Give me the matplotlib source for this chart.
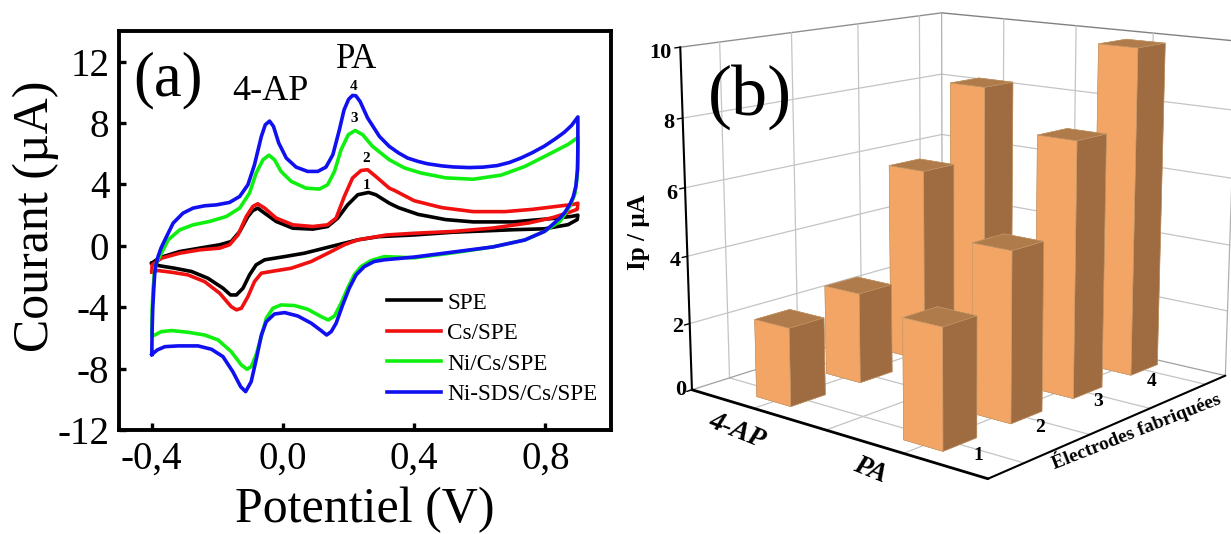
import numpy as np
import matplotlib
matplotlib.use('Agg')
import matplotlib.pyplot as plt

plt.rcParams['font.family'] = ['Liberation Serif', 'DejaVu Serif']

# (a) cyclic voltammograms: (potential V, current uA)
black_cv = [(-.40,-1.13),(-.385,-.9),(-.365,-.70),(-.315,-.37),(-.254,-.15),(-.193,.07),(-.158,.28),(-.132,.93),(-.107,1.91),(-.092,2.3),(-.077,2.46),(-.056,2.13),(-.021,1.59),(.03,1.15),(.091,1.09),(.136,1.26),(.167,1.81),(.197,2.67),(.228,3.33),(.261,3.48),(.283,3.33),(.324,2.78),(.352,2.49),(.412,2.05),(.496,1.71),(.58,1.56),(.701,1.56),(.821,1.78),(.88,1.92),(.899,2.0),
            (.897,1.71),(.869,1.38),(.797,1.11),(.701,1.05),(.52,.89),(.40,.71),(.292,.6),(.228,.39),(.147,-.04),(.065,-.48),(.005,-.70),(-.056,-.91),(-.082,-1.24),(-.102,-1.89),(-.122,-2.76),(-.142,-3.2),(-.16,-3.2),(-.183,-2.76),(-.229,-2.11),(-.279,-1.67),(-.33,-1.46),(-.376,-1.30),(-.40,-1.13)]
red_cv = [(-.40,-1.7),(-.399,-1.24),(-.37,-.80),(-.315,-.48),(-.254,-.26),(-.193,-.15),(-.163,.07),(-.137,.72),(-.112,1.91),(-.092,2.57),(-.077,2.74),(-.056,2.46),(-.021,1.81),(.03,1.37),(.091,1.26),(.136,1.37),(.162,1.81),(.187,3.22),(.212,4.42),(.238,4.91),(.258,4.96),(.283,4.52),(.324,3.76),(.34,3.61),(.40,2.94),(.484,2.49),(.58,2.23),(.677,2.23),(.761,2.38),(.845,2.6),(.885,2.7),(.899,2.78),
          (.897,2.38),(.869,2.16),(.821,1.83),(.749,1.49),(.64,1.16),(.52,.94),(.40,.82),(.316,.71),(.228,.39),(.187,.07),(.147,-.37),(.086,-1.02),(.025,-1.46),(-.036,-1.67),(-.066,-1.78),(-.087,-2.33),(-.107,-3.31),(-.127,-4.07),(-.142,-4.17),(-.158,-3.96),(-.193,-3.09),(-.239,-2.33),(-.29,-1.89),(-.34,-1.72),(-.381,-1.61),(-.40,-1.7)]
green_cv = [(-.40,-5.81),(-.399,-4.2),(-.396,-2.8),(-.391,-1.5),(-.384,-1.0),(-.376,-.70),(-.35,.39),(-.315,1.04),(-.274,1.37),(-.224,1.59),(-.173,1.91),(-.132,2.46),(-.102,3.44),(-.082,4.74),(-.061,5.61),(-.043,5.91),(-.026,5.61),(-.006,4.85),(.025,4.2),(.07,3.76),(.111,3.70),(.136,3.98),(.157,4.85),(.177,6.26),(.199,7.24),(.22,7.52),(.243,7.24),(.273,6.48),(.324,5.61),(.37,5.08),(.42,4.75),(.496,4.43),(.58,4.34),(.665,4.61),(.737,5.17),(.809,5.95),(.869,6.61),(.899,7.06),
            (.899,5.8),(.897,4.5),(.89,3.4),(.875,2.6),(.845,1.6),(.797,.94),(.737,.38),(.64,-.07),(.52,-.45),(.40,-.78),(.309,-.70),(.268,-.96),(.238,-1.35),(.217,-1.89),(.197,-2.76),(.177,-3.74),(.157,-4.57),(.138,-4.83),(.116,-4.61),(.075,-4.13),(.035,-3.89),(-.006,-3.85),(-.031,-4.07),(-.051,-4.72),(-.066,-5.91),(-.082,-7.11),(-.097,-7.87),(-.11,-8.04),(-.127,-7.76),(-.158,-6.89),(-.198,-6.13),(-.239,-5.81),(-.29,-5.63),(-.34,-5.52),(-.371,-5.59),(-.391,-5.81)]
blue_cv = [(-.40,-7.08),(-.399,-5.5),(-.397,-4),(-.394,-2.8),(-.391,-1.76),(-.387,-1.2),(-.381,-.7),(-.372,-.15),(-.36,.39),(-.335,1.48),(-.305,2.13),(-.274,2.46),(-.239,2.61),(-.203,2.67),(-.163,2.83),(-.132,3.22),(-.107,3.98),(-.087,5.28),(-.066,7.13),(-.054,7.89),(-.041,8.13),(-.029,7.78),(-.013,6.70),(.010,5.72),(.040,5.13),(.075,4.85),(.106,4.85),(.131,5.13),(.152,5.94),(.172,7.57),(.186,8.85),(.2,9.55),(.212,9.8),(.222,9.78),(.235,9.41),(.258,8.33),(.294,7.13),(.324,6.48),(.352,6.06),(.38,5.72),(.412,5.5),(.44,5.35),(.484,5.21),(.52,5.14),(.568,5.1),(.61,5.13),(.653,5.23),(.69,5.43),(.725,5.72),(.76,6.07),(.797,6.5),(.83,6.97),(.857,7.39),(.88,7.85),(.899,8.4),
           (.899,6.5),(.898,5),(.893,3.9),(.885,3.2),(.875,2.72),(.86,2.2),(.845,1.83),(.82,1.35),(.797,.94),(.737,.38),(.64,-.07),(.52,-.4),(.40,-.73),(.309,-.91),(.278,-1.02),(.248,-1.35),(.223,-1.89),(.202,-2.76),(.182,-3.85),(.162,-5.04),(.147,-5.59),(.133,-5.81),(.116,-5.52),(.086,-5.04),(.045,-4.57),(.005,-4.35),(-.026,-4.44),(-.051,-4.94),(-.066,-5.81),(-.082,-7.44),(-.097,-8.85),(-.114,-9.5),(-.129,-9.18),(-.153,-8.2),(-.183,-7.22),(-.218,-6.74),(-.259,-6.52),(-.32,-6.52),(-.36,-6.57),(-.383,-6.78),(-.40,-7.08)]
series_names = ['SPE', 'Cs/SPE', 'Ni/Cs/SPE', 'Ni-SDS/Cs/SPE']
series_colors = ['#000000', '#F01010', '#10F010', '#1010F0']
x_ticks = [-0.4, 0.0, 0.4, 0.8]
x_labels = ['-0,4', '0,0', '0,4', '0,8']
y_ticks = [-12, -8, -4, 0, 4, 8, 12]
y_labels = ['-12', '-8', '-4', '0', '4', '8', '12']

# (b) peak currents
analytes = ['4-AP', 'PA']
electrodes = [1, 2, 3, 4]
ip_4ap = [2.3, 2.7, 5.9, 8.1]
ip_pa = [3.4, 4.9, 7.5, 9.8]
z_ticks = [0, 2, 4, 6, 8, 10]

W, H = 1231, 534
fig = plt.figure(figsize=(W/100, H/100), dpi=100, facecolor='white')

# ---------- panel (b), 3D ----------
a3 = fig.add_axes([0.5, 0, 0.4, 0.9], projection='3d', computed_zorder=False)
a3.patch.set_visible(False)
a3.set_axis_off()
xl = (-0.456, 1.505); yl = (0.484, 4.38); zl = (0, 10)
a3.set_xlim(*xl); a3.set_ylim(*yl); a3.set_zlim(*zl)
a3.view_init(12.766, -49.844)
a3.set_proj_type('persp', focal_length=0.539)
a3.set_box_aspect((0.998, 1, 0.897))
s, tx, ty = 3396.8, 961.9, 216.9
x0, x1 = a3.viewLim.intervalx; y0, y1 = a3.viewLim.intervaly
side = s*(x1-x0)
a3.set_position([(tx+s*x0)/W, 1-(ty-s*y0)/H, side/W, side/H])

grid_c = '#C4C4C4'
def seg(a, b, c=grid_c, lw=0.9, z=1):
    a3.plot([a[0], b[0]], [a[1], b[1]], [a[2], b[2]], color=c, lw=lw, zorder=z, solid_capstyle='round')
for zv in z_ticks[1:-1]:
    seg((xl[0], yl[0], zv), (xl[0], yl[1], zv))
    seg((xl[0], yl[1], zv), (xl[1], yl[1], zv))
seg((xl[0], yl[0], 10), (xl[0], yl[1], 10), '#909090', 1.0)
seg((xl[0], yl[1], 10), (xl[1], yl[1], 10), '#808080', 1.0)
for r in electrodes:
    seg((xl[0], r, 0), (xl[0], r, 10))
    seg((xl[0], r, 0), (xl[1], r, 0))
for c in [0, 0.5, 1]:
    seg((c, yl[1], 0), (c, yl[1], 10))
    seg((c, yl[0], 0), (c, yl[1], 0))
seg((xl[0], yl[1], 0), (xl[0], yl[1], 10), '#B0B0B0')
seg((xl[1], yl[1], 0), (xl[1], yl[1], 10), '#B0B0B0')
seg((xl[0], yl[0], 0), (xl[0], yl[1], 0), '#A0A0A0')
seg((xl[0], yl[1], 0), (xl[1], yl[1], 0), '#A0A0A0')
for zv in z_ticks:
    seg((xl[0], yl[0], zv), (xl[0], yl[0]-0.07, zv), '#000000', 1.0, 3)
seg((xl[0], yl[0], 0), (xl[0], yl[0], 10), '#000000', 1.5, 3)
seg((xl[0], yl[0], 0), (xl[1], yl[0], 0), '#000000', 2.0, 3)
seg((xl[1], yl[0], 0), (xl[1], yl[1], 0), '#000000', 1.5, 3)

front_c, side_c, top_c = '#F3A566', '#9E6C40', '#AF7B4A'
bw, bd = 0.245, 0.487
order = 10
for r_i in range(3, -1, -1):
    for a_i, vals in enumerate([ip_4ap, ip_pa]):
        a3.bar3d(a_i-bw/2, electrodes[r_i]-bd/2, 0, bw, bd, vals[r_i], shade=False,
                 color=[side_c, top_c, front_c, side_c, side_c, side_c],
                 edgecolor='#C69A6C', linewidth=0.4, zorder=order)
        order += 1

for zv, (px, py) in zip(z_ticks, [(681,390),(678,327),(675,261),(672,194),(669,123),(660,53)]):
    fig.text(px/W, 1-py/H, str(zv), fontsize=16, fontweight='bold', ha='center', va='center')
fig.text(639/W, 1-232/H, 'Ip / µA', fontsize=18, fontweight='bold', rotation=90, ha='center', va='center')
fig.text(737/W, 1-431/H, analytes[0], fontsize=20, fontweight='bold', style='italic', rotation=-22, ha='center', va='center', rotation_mode='anchor')
fig.text(870/W, 1-470/H, analytes[1], fontsize=20, fontweight='bold', style='italic', rotation=-22, ha='center', va='center', rotation_mode='anchor')
for e, (px, py) in zip(electrodes, [(978,456),(1040,428),(1098,401),(1152,381)]):
    fig.text(px/W, 1-py/H, str(e), fontsize=14, fontweight='bold', ha='center', va='center')
fig.text(1136/W, 1-430/H, 'Électrodes fabriquées', fontsize=14, fontweight='bold', rotation=21.5, ha='center', va='center', rotation_mode='anchor')
fig.text(750/W, 1-97/H, '(b)', fontsize=52, ha='center', va='center')

# ---------- panel (a) ----------
ax = fig.add_axes([119/W, 1-430/H, 492/W, 399/H])
for pts, c, n in zip([black_cv, red_cv, green_cv, blue_cv], series_colors, series_names):
    arr = np.array(pts)
    ax.plot(arr[:, 0], arr[:, 1], color=c, lw=2.6, label=n, solid_joinstyle='round')
ax.set_xlim(-0.5, 1.0); ax.set_ylim(-12, 14)
ax.set_xticks(x_ticks, x_labels); ax.set_yticks(y_ticks, y_labels)
ax.tick_params(direction='in', length=5, width=2.4, labelsize=28)
ax.tick_params(axis='x', pad=8); ax.tick_params(axis='y', pad=7)
for sp in ax.spines.values():
    sp.set_linewidth(2.8)
ax.set_xlabel('Potentiel (V)', fontsize=36, va='center'); ax.xaxis.set_label_coords(0.5, -0.2)
ax.set_ylabel('Courant (µA)', fontsize=36, va='center'); ax.yaxis.set_label_coords(-0.17, 0.536)
ax.legend(loc='lower left', bbox_to_anchor=(0.544, 0.0625), frameon=False, fontsize=16.7, handlelength=2.35,
          handletextpad=0.26, labelspacing=0.4, borderpad=0, borderaxespad=0)
def lab(px, py, t, fs, **k):
    ax.annotate(t, (px/W, 1-py/H), xycoords='figure fraction', fontsize=fs, ha='center', va='center', **k)
lab(168, 80, '(a)', 45)
lab(357, 59, 'PA', 25)
lab(270, 92, '4-AP', 26)
for t, px, py in [('4',354,86),('3',354.5,119),('2',366,159),('1',367,185)]:
    lab(px, py, t, 11, fontweight='bold')

fig.savefig('out.png', dpi=100)
